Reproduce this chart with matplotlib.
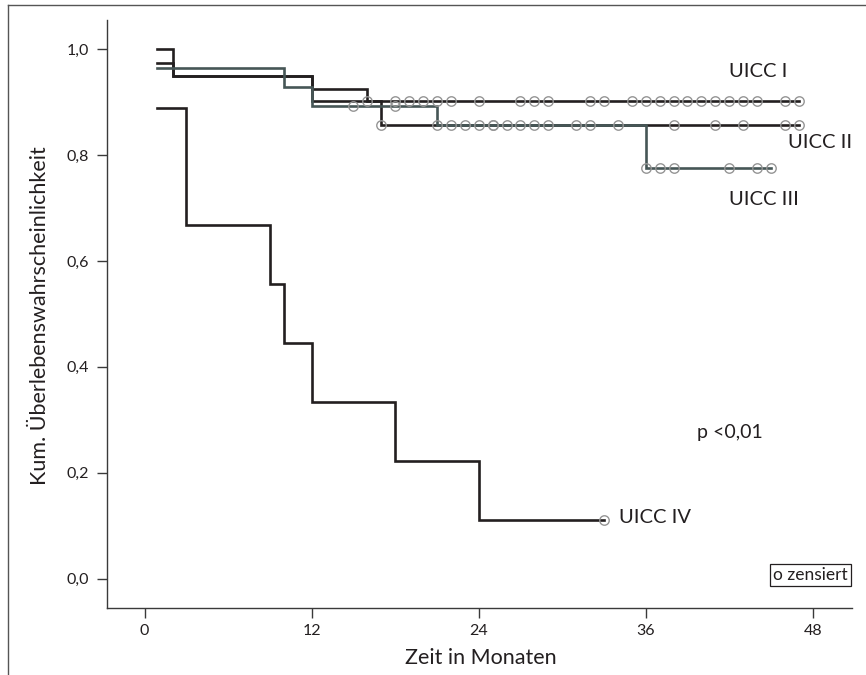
import numpy as np
import matplotlib
matplotlib.use("Agg")
import matplotlib.pyplot as plt
from matplotlib.lines import Line2D

plt.rcParams['font.family'] = ['Lato', 'DejaVu Sans']

# ---- data (months, cumulative survival) ----
t_I = [0.9, 2, 12, 16, 47]
s_I = [1.000, 0.950, 0.924, 0.902, 0.902]
c_I = [16, 18, 19, 20, 21, 22, 24, 27, 28, 29, 32, 33, 35, 36, 37, 38, 39,
       40, 41, 42, 43, 44, 46, 47]

t_II = [0.9, 2, 12, 17, 47]
s_II = [0.974, 0.950, 0.902, 0.857, 0.857]
c_II = [17, 22, 24, 25, 26, 28, 31, 34, 38, 41, 43, 46, 47]

t_III = [0.9, 10, 12, 21, 36, 45]
s_III = [0.964, 0.928, 0.892, 0.857, 0.775, 0.775]
c_III = [15, 18, 21, 23, 25, 27, 29, 32, 36, 37, 38, 42, 44, 45]

t_IV = [0.9, 3, 9, 10, 12, 18, 24, 33]
s_IV = [0.889, 0.667, 0.556, 0.444, 0.333, 0.222, 0.111, 0.111]
c_IV = [33]

x_ticks = [0, 12, 24, 36, 48]
y_ticks = [0.0, 0.2, 0.4, 0.6, 0.8, 1.0]
y_ticklabels = ["0,0", "0,2", "0,4", "0,6", "0,8", "1,0"]

BLACK = "#231f20"
SLATE = "#465656"
CENS = "#959595"

fig = plt.figure(figsize=(8.66, 6.75), dpi=100)
ax = fig.add_axes([0.1232, 0.0997, 0.9835 - 0.1232, 0.9704 - 0.0997])


def surv_at(times, surv, c):
    idx = np.searchsorted(np.asarray(times), np.asarray(c), side='right') - 1
    return np.asarray(surv)[idx]


curves = [
    (t_II, s_II, c_II, BLACK, 2),
    (t_I, s_I, c_I, BLACK, 2),
    (t_IV, s_IV, c_IV, BLACK, 2),
    (t_III, s_III, c_III, SLATE, 3),
]
for t, s, c, col, z in curves:
    ax.step(t, s, where='post', color=col, lw=1.9, zorder=z,
            solid_joinstyle='miter')
for t, s, c, col, z in curves:
    ax.plot(c, surv_at(t, s, c), linestyle='none', marker='o', ms=6.8,
            mfc='none', mec=CENS, mew=1.0, zorder=5)

ax.set_xlim(-2.73, 50.8)
ax.set_ylim(-0.055, 1.055)
ax.set_xticks(x_ticks)
ax.set_xticklabels([str(v) for v in x_ticks])
ax.set_yticks(y_ticks)
ax.set_yticklabels(y_ticklabels)

for sp in ['top', 'right']:
    ax.spines[sp].set_visible(False)
for sp in ['left', 'bottom']:
    ax.spines[sp].set_color("#3a3a3a")
    ax.spines[sp].set_linewidth(1.0)
ax.tick_params(direction='out', length=7.2, width=1.0, color="#3a3a3a",
               labelsize=11.5, labelcolor=BLACK)
ax.tick_params(axis='x', pad=4.5)
ax.tick_params(axis='y', pad=5.3)

fig.text(481 / 866, 1 - 664 / 675, "Zeit in Monaten", ha='center',
         va='baseline', fontsize=15.5, color=BLACK)
fig.text(40 / 866, 1 - 316 / 675, "Kum. Überlebenswahrscheinlichkeit",
         ha='center', va='center', rotation=90, fontsize=15.5, color=BLACK)

lab_kw = dict(fontsize=14.5, color=BLACK, va='center', ha='left')
ax.text(42.0, 0.957, "UICC I", **lab_kw)
ax.text(46.2, 0.823, "UICC II", **lab_kw)
ax.text(42.0, 0.716, "UICC III", **lab_kw)
ax.text(34.1, 0.116, "UICC IV", **lab_kw)
ax.text(39.7, 0.276, "p <0,01", fontsize=14, color=BLACK, va='center',
        ha='left')

ax.text((848 - 106.7) / 745, (607.7 - 575) / 587.7, "o zensiert",
        transform=ax.transAxes, ha='right', va='center', fontsize=12.5,
        color=BLACK,
        bbox=dict(boxstyle='square,pad=0.2', fc='white', ec=BLACK, lw=0.9))

# outer frame (left and top edges)
fx = 8 / 866
fy = 1 - 5 / 675
fig.add_artist(Line2D([fx, fx], [0, fy], transform=fig.transFigure,
                      color="#555555", lw=1.0))
fig.add_artist(Line2D([fx, 1], [fy, fy], transform=fig.transFigure,
                      color="#555555", lw=1.0))

fig.savefig("out.png", dpi=100)
